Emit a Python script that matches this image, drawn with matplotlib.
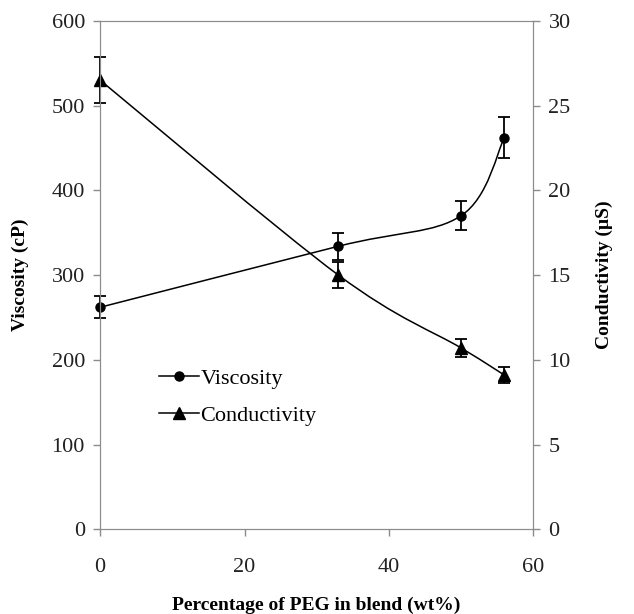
import matplotlib
matplotlib.use("Agg")
import matplotlib.pyplot as plt
from matplotlib.path import Path
import matplotlib.patches as patches
from matplotlib.lines import Line2D

# data
peg = [0, 33, 50, 56]
viscosity = [262, 334, 370, 462]
viscosity_err = [13, 16, 17, 24]
conductivity = [26.5, 15.0, 10.7, 9.1]
conductivity_err = [1.35, 0.75, 0.55, 0.45]

plt.rcParams['font.family'] = ['Liberation Serif', 'DejaVu Serif']

def smooth_path(xs, ys):
    # excel-style smoothed line: cubic bezier through points
    pts = list(zip(xs, ys))
    verts = [pts[0]]
    codes = [Path.MOVETO]
    n = len(pts)
    for i in range(n - 1):
        p0 = pts[i - 1] if i > 0 else pts[i]
        p1 = pts[i]
        p2 = pts[i + 1]
        p3 = pts[i + 2] if i + 2 < n else pts[i + 1]
        c1 = (p1[0] + (p2[0] - p0[0]) / 6, p1[1] + (p2[1] - p0[1]) / 6)
        c2 = (p2[0] - (p3[0] - p1[0]) / 6, p2[1] - (p3[1] - p1[1]) / 6)
        verts += [c1, c2, p2]
        codes += [Path.CURVE4] * 3
    return Path(verts, codes)

fig = plt.figure(figsize=(6.34, 6.14), dpi=100)
ax = fig.add_axes([0.158, 0.138, 0.683, 0.828])
ax2 = ax.twinx()

grey = '#8c8c8c'

ax.add_patch(patches.PathPatch(smooth_path(peg, viscosity), fill=False, color='black', lw=1.1))
eb1 = ax.errorbar(peg, viscosity, yerr=viscosity_err, fmt='o', color='black', ms=6.5,
                  capsize=4, elinewidth=1.3, capthick=1.3)

ax2.add_patch(patches.PathPatch(smooth_path(peg, conductivity), fill=False, color='black', lw=1.1))
eb2 = ax2.errorbar(peg, conductivity, yerr=conductivity_err, fmt='^', color='black', ms=8,
                   capsize=4, elinewidth=1.3, capthick=1.3)
# keep the error bars at x=0 from being cut by the axes edge
for eb in (eb1, eb2):
    eb.lines[0].set_clip_on(False)
    for art in eb.lines[1] + eb.lines[2]:
        art.set_clip_on(False)

ax.set_xlim(0, 60)
ax.set_ylim(0, 600)
ax2.set_ylim(0, 30)
ax.set_xticks([0, 20, 40, 60])
ax.set_yticks(range(0, 601, 100))
ax2.set_yticks(range(0, 31, 5))

for a in (ax, ax2):
    for s in a.spines.values():
        s.set_color(grey)
    a.tick_params(colors=grey, labelcolor='#222222', labelsize=16, length=5, width=1)
ax.tick_params(axis='x', pad=16)
ax.tick_params(axis='y', pad=6)
ax2.tick_params(axis='y', pad=6)

ax.set_xlabel('Percentage of PEG in blend (wt%)', fontsize=14, fontweight='bold', labelpad=14)
ax.set_ylabel('Viscosity (cP)', fontsize=14, fontweight='bold', labelpad=16)
ax2.set_ylabel('Conductivity (\u00b5S)', fontsize=14, fontweight='bold', labelpad=18)

handles = [Line2D([], [], color='black', marker='o', ms=6.5, lw=1.1),
           Line2D([], [], color='black', marker='^', ms=8, lw=1.1)]
ax.legend(handles, ['Viscosity', 'Conductivity'], loc='center left',
          bbox_to_anchor=(0.09, 0.26), frameon=False, fontsize=16,
          handlelength=1.8, handletextpad=0.05, labelspacing=0.75)

fig.savefig('out.png', dpi=100)
